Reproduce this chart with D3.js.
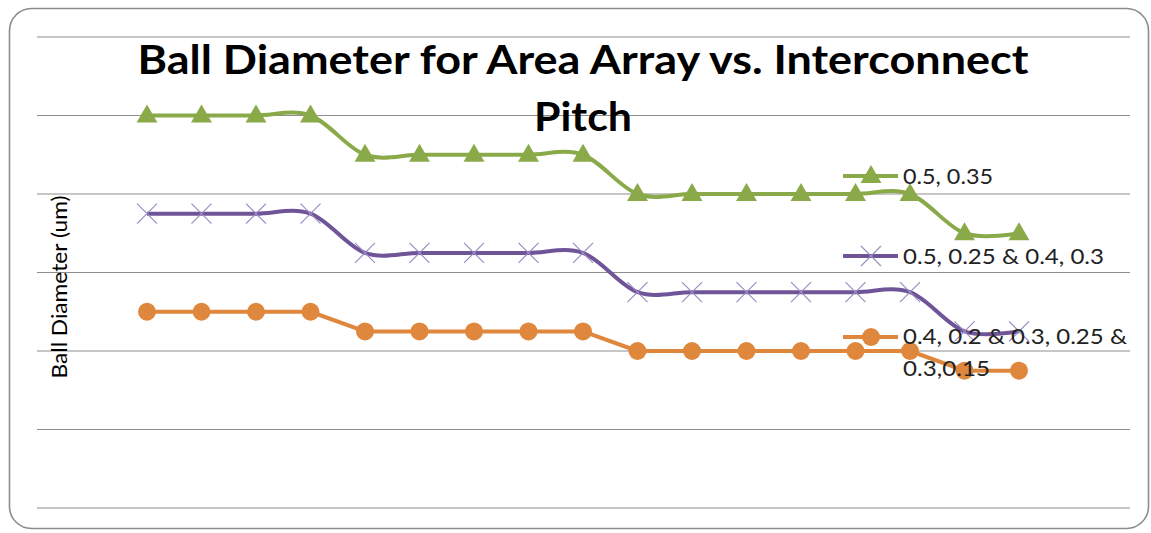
<!DOCTYPE html>
<html>
<head>
<meta charset="utf-8">
<script src="https://cdn.jsdelivr.net/npm/d3@7"></script>
<style>
  html, body { margin: 0; padding: 0; background: #fff; }
  svg { display: block; }
</style>
</head>
<body>
<svg id="chart" width="1151" height="533"></svg>
<script>
// Pitch steps along the x axis (17 sample positions)
const categories = d3.range(1, 18);

// Ball diameter values per series
const seriesNames = ["0.5, 0.35", "0.5, 0.25 & 0.4, 0.3", "0.4, 0.2 & 0.3, 0.25 & 0.3,0.15"];
const greenValues  = [500, 500, 500, 500, 450, 450, 450, 450, 450, 400, 400, 400, 400, 400, 400, 350, 350];
const purpleValues = [375, 375, 375, 375, 325, 325, 325, 325, 325, 275, 275, 275, 275, 275, 275, 225, 225];
const orangeValues = [250, 250, 250, 250, 225, 225, 225, 225, 225, 200, 200, 200, 200, 200, 200, 175, 175];

const yTicks = [0, 100, 200, 300, 400, 500, 600];

const svg = d3.select("#chart");
const fontFamily = "Lato, 'Open Sans', sans-serif";

// outer rounded frame
svg.append("rect")
  .attr("x", 9.5).attr("y", 8.5)
  .attr("width", 1139).attr("height", 520)
  .attr("rx", 22).attr("ry", 22)
  .attr("fill", "#fff")
  .attr("stroke", "#8c8c8c").attr("stroke-width", 1.6);

const plot = { left: 37, right: 1130, top: 37, bottom: 508 };

const x = d3.scalePoint()
  .domain(categories)
  .range([147, 1019]);

const y = d3.scaleLinear()
  .domain([0, 600])
  .range([plot.bottom, plot.top]);

// horizontal gridlines
svg.append("g")
  .selectAll("line")
  .data(yTicks)
  .join("line")
  .attr("x1", plot.left).attr("x2", plot.right)
  .attr("y1", d => y(d)).attr("y2", d => y(d))
  .attr("stroke", "#8e8e8e").attr("stroke-width", 1.2);

// title (two lines)
const title = svg.append("text")
  .attr("text-anchor", "middle")
  .attr("font-family", fontFamily)
  .attr("font-weight", "bold")
  .attr("font-size", 40)
  .attr("fill", "#000");
title.append("tspan").attr("x", 583).attr("y", 74)
  .attr("textLength", 891).attr("lengthAdjust", "spacingAndGlyphs")
  .text("Ball Diameter for Area Array vs. Interconnect");
title.append("tspan").attr("x", 583).attr("y", 131)
  .attr("textLength", 98).attr("lengthAdjust", "spacingAndGlyphs")
  .text("Pitch");

// y axis title
svg.append("text")
  .attr("transform", "translate(67,287) rotate(-90)")
  .attr("text-anchor", "middle")
  .attr("font-family", fontFamily)
  .attr("font-size", 21)
  .attr("textLength", 183).attr("lengthAdjust", "spacingAndGlyphs")
  .attr("fill", "#000")
  .text("Ball Diameter (um)");

const smooth = d3.line().x((d, i) => x(categories[i])).y(d => y(d)).curve(d3.curveCardinal.tension(0));
const straight = d3.line().x((d, i) => x(categories[i])).y(d => y(d));

const series = [
  { name: seriesNames[0], values: greenValues, color: "#8aaa4a", marker: "triangle", line: smooth },
  { name: seriesNames[1], values: purpleValues, color: "#6f5498", marker: "cross", line: smooth },
  { name: seriesNames[2], values: orangeValues, color: "#df873c", marker: "circle", line: straight }
];

function drawMarker(g, type, cx, cy, color) {
  if (type === "triangle") {
    g.append("path")
      .attr("d", d3.symbol().type(d3.symbolTriangle).size(190)())
      .attr("transform", `translate(${cx},${cy + 1})`)
      .attr("fill", color);
  } else if (type === "cross") {
    const s = 10;
    g.append("path")
      .attr("d", `M${cx - s},${cy - s}L${cx + s},${cy + s}M${cx - s},${cy + s}L${cx + s},${cy - s}`)
      .attr("stroke", "#9a8cc4").attr("stroke-width", 1.2).attr("fill", "none");
  } else {
    g.append("circle").attr("cx", cx).attr("cy", cy).attr("r", 9).attr("fill", color);
  }
}

series.forEach(s => {
  const g = svg.append("g");
  g.append("path")
    .attr("d", s.line(s.values))
    .attr("fill", "none")
    .attr("stroke", s.color)
    .attr("stroke-width", 4)
    .attr("stroke-linejoin", "round");
  s.values.forEach((v, i) => drawMarker(g, s.marker, x(categories[i]), y(v), s.color));
});

// legend
const legendY = [176, 256, 337];
const legend = svg.append("g");
series.forEach((s, i) => {
  const ly = legendY[i];
  legend.append("line")
    .attr("x1", 843).attr("x2", 898)
    .attr("y1", ly).attr("y2", ly)
    .attr("stroke", s.color).attr("stroke-width", 4);
  drawMarker(legend, s.marker, 871, ly, s.color);
});
const legendLines = [
  { text: "0.5, 0.35", y: 184, w: 90 },
  { text: "0.5, 0.25 & 0.4, 0.3", y: 264, w: 201 },
  { text: "0.4, 0.2 & 0.3, 0.25 &", y: 344, w: 224 },
  { text: "0.3,0.15", y: 376, w: 87 }
];
legend.selectAll("text.lbl")
  .data(legendLines)
  .join("text")
  .attr("class", "lbl")
  .attr("x", 903).attr("y", d => d.y)
  .attr("font-family", fontFamily).attr("font-size", 22).attr("fill", "#222")
  .attr("textLength", d => d.w).attr("lengthAdjust", "spacingAndGlyphs")
  .text(d => d.text);
</script>
</body>
</html>
